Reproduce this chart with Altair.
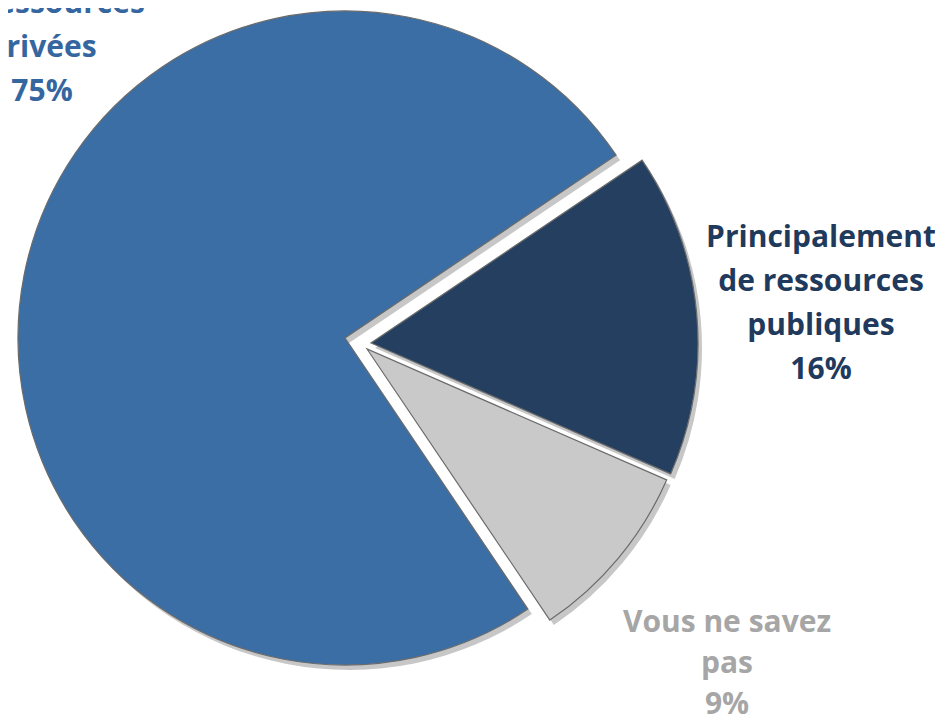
import math
import altair as alt
import pandas as pd

# ---- data ----
categories = [
    "Principalement de ressources privées",
    "Principalement de ressources publiques",
    "Vous ne savez pas",
]
values = [75, 16, 9]
labels = [
    "Principalement\nde ressources\nprivées\n75%",
    "Principalement\nde ressources\npubliques\n16%",
    "Vous ne savez\npas\n9%",
]

# ---- styles / layout ----
slice_colors = ["#3A6EA5", "#243F60", "#C9C9C9"]
label_colors = ["#3566A0", "#1F3A5C", "#A6A6A6"]
centers = [(337, 330), (363, 335), (359, 341)]       # exploded slice centres
label_pos = [(34, -39), (813, 239), (719, 624)]      # label anchor (first baseline)
line_heights = [44, 44, 41]
radius = 327
start = math.radians(146)

df = pd.DataFrame({"category": categories, "value": values, "label": labels,
                   "order": list(range(len(categories)))})

theta_scale = alt.Scale(domain=[0, 100], range=[start, start + 2 * math.pi])

base = (
    alt.Chart(df)
    .transform_window(cum="sum(value)", sort=[alt.SortField("order")])
    .transform_calculate(start="datum.cum - datum.value")
)

layers = []
# shadows
for i, cat in enumerate(categories):
    cx, cy = centers[i]
    layers.append(
        base.transform_filter(alt.datum.category == cat)
        .mark_arc(radius=radius, color="#000000", opacity=0.22)
        .encode(
            theta=alt.Theta("start:Q", scale=theta_scale),
            theta2="cum:Q",
            x=alt.value(cx + 4),
            y=alt.value(cy + 5),
        )
    )
# slices
for i, cat in enumerate(categories):
    cx, cy = centers[i]
    layers.append(
        base.transform_filter(alt.datum.category == cat)
        .mark_arc(radius=radius, color=slice_colors[i], stroke="#6b6b6b", strokeWidth=1.2)
        .encode(
            theta=alt.Theta("start:Q", scale=theta_scale),
            theta2="cum:Q",
            x=alt.value(cx),
            y=alt.value(cy),
        )
    )
# labels
for i, cat in enumerate(categories):
    lx, ly = label_pos[i]
    layers.append(
        alt.Chart(df)
        .transform_filter(alt.datum.category == cat)
        .mark_text(
            font="Open Sans", fontWeight="bold", fontSize=30, align="center",
            baseline="alphabetic", lineBreak="\n", lineHeight=line_heights[i],
            color=label_colors[i],
        )
        .encode(text="label:N", x=alt.value(lx), y=alt.value(ly))
    )

chart = (
    alt.layer(*layers)
    .properties(width=927, height=707, autosize=alt.AutoSizeParams(type="none"), padding=0)
    .configure_view(strokeWidth=0)
)

chart.save("out.html", embed_options={"renderer": "svg", "actions": False})
